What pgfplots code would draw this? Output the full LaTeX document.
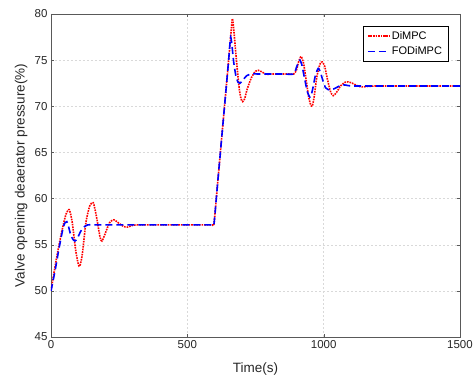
\documentclass[border=0pt]{standalone}
\usepackage{pgfplots}
\pgfplotsset{compat=1.18}
\usepackage{fontspec}
\setmainfont{Liberation Sans}

% Valve opening response of the deaerator pressure loop
\pgfplotstableread{
t v
0 50
20 53.5
40 56.5
55 58.3
67 58.8
78 57.4
90 54.5
100 52.9
106 52.7
115 54
128 57.4
142 59.2
155 59.55
167 58
180 55.8
187 55.4
200 56.3
215 57.4
231 57.7
250 57.3
265 57.0
280 56.9
300 57.1
320 57.15
340 57.15
400 57.15
500 57.15
580 57.15
592 57.15
598 57.3
610 61.3
630 67.9
650 74.5
660 77.9
665 79.5
670 78.4
680 75.0
690 72.0
697 70.8
703 70.5
710 70.8
720 71.9
735 73.1
750 73.8
760 73.9
775 73.7
790 73.45
805 73.5
830 73.5
870 73.5
890 73.5
900 73.9
908 74.8
917 75.4
926 74.7
935 73.0
945 71.0
952 70.2
958 70.0
965 71.0
975 73.2
987 74.6
995 74.8
1004 74.3
1014 72.9
1025 71.6
1035 71.15
1047 71.5
1062 72.2
1078 72.6
1090 72.65
1105 72.5
1125 72.2
1140 72.1
1160 72.15
1190 72.2
1250 72.2
1350 72.2
1500 72.2
}\dimpc

\pgfplotstableread{
t v
0 50
15 52.2
30 54.7
45 56.9
52 57.4
58 57.5
64 57.0
72 56.1
80 55.6
88 55.4
97 55.7
108 56.4
120 56.9
135 57.15
150 57.15
200 57.15
300 57.15
400 57.15
500 57.15
580 57.15
592 57.15
598 57.3
610 61.3
630 67.9
650 74.5
656 76.7
659 77.5
663 76.8
670 74.8
678 73.3
686 72.6
693 72.5
703 72.8
717 73.3
735 73.5
760 73.5
800 73.5
850 73.5
890 73.5
900 74.2
908 74.8
913 75.0
920 74.5
930 73.0
940 71.6
947 71.1
952 71.0
960 71.9
970 73.4
980 74.1
988 73.7
997 72.8
1007 72.0
1017 71.8
1030 71.8
1045 72.0
1065 72.3
1080 72.3
1100 72.2
1150 72.2
1250 72.2
1350 72.2
1500 72.2
}\fodimpc

\begin{document}
\begin{tikzpicture}
\useasboundingbox (-51bp,-43bp) rectangle (425bp,337bp);
\begin{axis}[
  scale only axis,
  width=409bp, height=323bp,
  xmin=0, xmax=1500, ymin=45, ymax=80,
  xtick={0,500,1000,1500},
  ytick={45,50,...,80},
  tick align=inside,
  major tick length=3bp,
  grid=major,
  grid style={dash pattern=on 2bp off 2bp, black!15},
  axis line style={black!65},
  tick style={black!65},
  /pgf/number format/assume math mode=true,
  /pgf/number format/1000 sep={},
  ticklabel style={font=\fontsize{11.5bp}{13bp}\selectfont, text=black!85},
  xlabel={Time(s)},
  ylabel={Valve opening deaerator pressure(\%)},
  label style={font=\fontsize{13.5bp}{16bp}\selectfont, text=black!85},
  xlabel style={at={(axis description cs:0.5,-0.099)}, anchor=center},
  ylabel style={at={(axis description cs:-0.0733,0.5)}, anchor=center},
  legend style={at={(0.971,0.963)}, anchor=north east,
    font=\fontsize{11bp}{13bp}\selectfont, draw=black,
    inner xsep=4bp, inner ysep=3bp, row sep=2bp},
  legend image post style={xscale=1.25},
  legend cell align=left,
]
\addplot[red, line width=1.6bp, densely dotted, smooth, tension=0.4] table {\dimpc};
\addlegendentry{DiMPC}
\addplot[blue, line width=1.6bp, dash pattern=on 7bp off 4bp, smooth, tension=0.4] table {\fodimpc};
\addlegendentry{FODiMPC}
\end{axis}
\end{tikzpicture}
\end{document}
